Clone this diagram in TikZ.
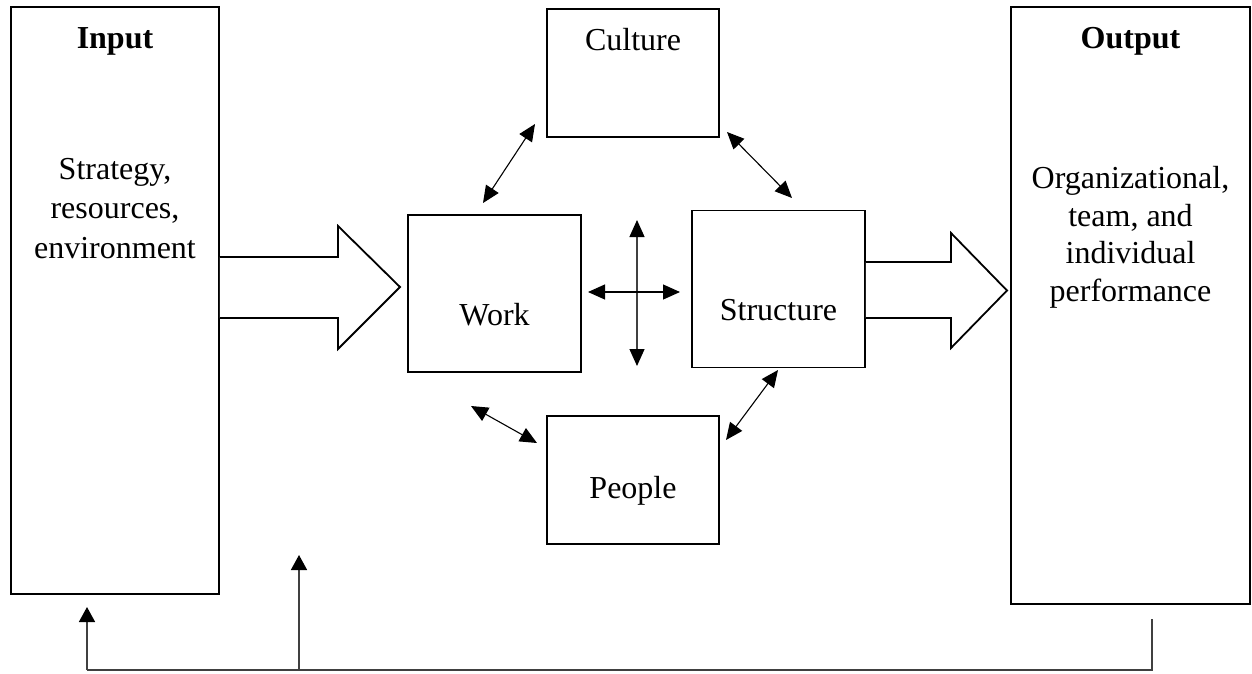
\documentclass[tikz,border=0pt]{standalone}
\usepackage{fontspec}
\setmainfont{Liberation Serif}
\usetikzlibrary{arrows.meta}
\begin{document}
\begin{tikzpicture}[x=1pt,y=-1pt,
  box/.style={draw,line width=1.6pt,inner sep=0pt},
  txt/.style={font=\fontsize{32}{37.5}\selectfont,align=center,anchor=base,inner sep=0pt},
  dbl/.style={line width=1.1pt,{Triangle[length=17pt,width=15pt,color=black]}-{Triangle[length=17pt,width=15pt,color=black]}},
  fb/.style={draw=black!75,line width=1.6pt},
  fbarrow/.style={fb,-{Triangle[length=15pt,width=16pt,color=black]}},
  block/.style={draw,line width=1.8pt,fill=white,line join=miter}]
\useasboundingbox (0,0) rectangle (1252,673);
% boxes
\node[box,minimum width=208pt,minimum height=587pt] (input) at (115,300.5) {};
\node[box,minimum width=239pt,minimum height=597pt] (output) at (1130.5,305.5) {};
\node[box,minimum width=172pt,minimum height=128pt] (culture) at (633,73) {};
\node[box,minimum width=173pt,minimum height=157pt] (work) at (494.5,293.5) {};
\node[box,minimum width=173pt,minimum height=157pt] (structure) at (778.5,289) {};
\node[box,minimum width=172pt,minimum height=128pt] (people) at (633,480) {};
% texts
\node[txt,font=\fontsize{32}{37.5}\selectfont\bfseries] (tin) at (115,48) {Input};
\node[txt,font=\fontsize{32}{39.5}\selectfont] (tin2) at (115,258) {Strategy,\\resources,\\environment};
\node[txt,font=\fontsize{32}{37.5}\selectfont\bfseries] (tout) at (1130.5,48) {Output};
\node[txt] (tout2) at (1130.5,301) {Organizational,\\team, and\\individual\\performance};
\node[txt] (tcul) at (633,50) {Culture};
\node[txt] (twork) at (494.5,325) {Work};
\node[txt] (tstr) at (778.5,320) {Structure};
\node[txt] (tpeo) at (633,498) {People};
% big block arrows
\draw[block] (input.east |- 0,257) -- (338,257) -- (338,226) -- (400,287) -- (338,349) -- (338,318) -- (input.east |- 0,318);
\draw[block] (structure.east |- 0,262) -- (951,262) -- (951,233) -- (1007,290.5) -- (951,348) -- (951,318) -- (structure.east |- 0,318);
% interaction arrows
\coordinate (cw1) at (535,124); \coordinate (cw2) at (483,203);
\coordinate (cs1) at (727,132); \coordinate (cs2) at (792,198);
\coordinate (wp1) at (471,406); \coordinate (wp2) at (537,443);
\coordinate (ps1) at (778,370); \coordinate (ps2) at (726,440);
\coordinate (vt) at (637,220); \coordinate (vb) at (637,366);
\coordinate (hl) at (588,292); \coordinate (hr) at (680,292);
\draw[dbl] (cw1) -- (cw2);
\draw[dbl] (cs1) -- (cs2);
\draw[dbl] (wp1) -- (wp2);
\draw[dbl] (ps1) -- (ps2);
\draw[dbl,draw=black!75,line width=1.3pt] (vt) -- (vb);
\draw[dbl] (hl) -- (hr);
% feedback loop
\coordinate (f0) at (1152,619);
\coordinate (f1) at (1152,670);
\coordinate (f2) at (87,670);
\coordinate (f3) at (87,607);
\coordinate (g0) at (299,670);
\coordinate (g1) at (299,555);
\draw[fb] (f0) -- (f1) -- (f2);
\draw[fbarrow] (f2) -- (f3);
\draw[fbarrow] (g0) -- (g1);
\end{tikzpicture}
\end{document}
